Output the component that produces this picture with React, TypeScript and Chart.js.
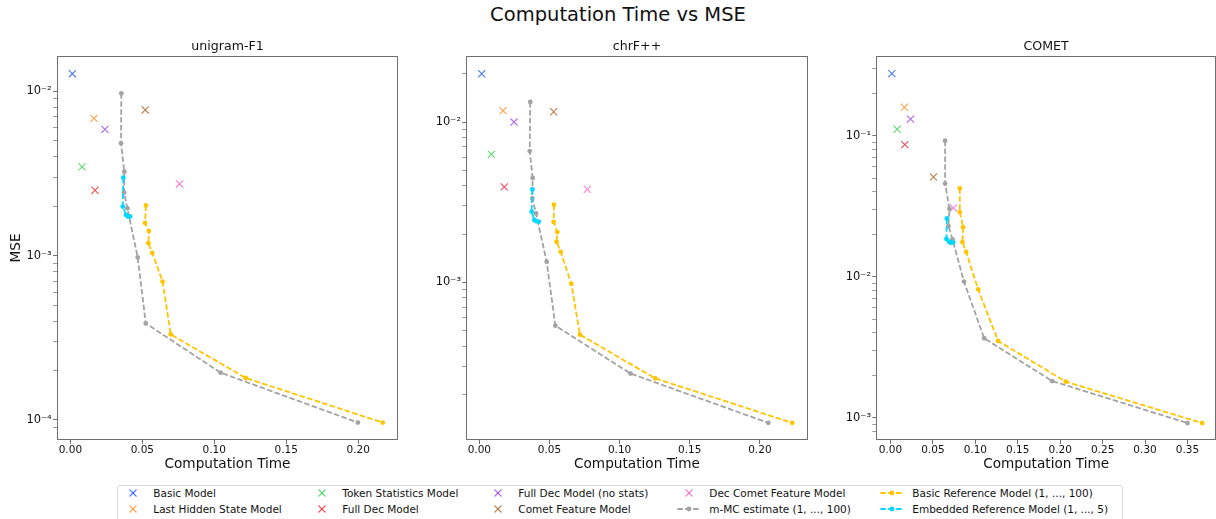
import React, { useEffect, useRef } from "react";
import { Chart, registerables } from "chart.js";

Chart.register(...registerables);

const FONT = "'DejaVu Sans', 'Noto Sans', sans-serif";

// ---------- labels ----------
const figureTitle = "Computation Time vs MSE";
const metricTitles = ["unigram-F1", "chrF++", "COMET"];
const xAxisLabel = "Computation Time";
const yAxisLabel = "MSE";
const modelNames = [
  "Basic Model",
  "Last Hidden State Model",
  "Token Statistics Model",
  "Full Dec Model",
  "Full Dec Model (no stats)",
  "Comet Feature Model",
  "Dec Comet Feature Model",
];
const mcLabel = "m-MC estimate (1, ..., 100)";
const basicRefLabel = "Basic Reference Model (1, ..., 100)";
const embRefLabel = "Embedded Reference Model (1, ..., 5)";
const xTickStep = 0.05;

// ---------- colours ----------
const modelColors = ["#023eff", "#ff7c00", "#1ac938", "#e8000b", "#8b2be2", "#9f4800", "#f14cc1"];
const mcColor = "#a3a3a3";
const basicRefColor = "#ffc400";
const embRefColor = "#00d7ff";

// ---------- unigram-F1 ----------
const uniModelTime = [0.0014, 0.0164, 0.0081, 0.0171, 0.024, 0.052, 0.0759];
const uniModelMse = [0.0128, 0.00685, 0.00347, 0.0025, 0.00587, 0.0077, 0.00273];
const uniMcTime = [0.0354, 0.0352, 0.0375, 0.0373, 0.0396, 0.0468, 0.0524, 0.1044, 0.1998];
const uniMcMse = [0.00972, 0.00483, 0.00324, 0.00242, 0.00194, 0.000977, 0.000387, 0.000194, 0.0000964];
const uniBasicRefTime = [0.0525, 0.0519, 0.0546, 0.0542, 0.0569, 0.0641, 0.0697, 0.1218, 0.2171];
const uniBasicRefMse = [0.00202, 0.00158, 0.00141, 0.00119, 0.00104, 0.000695, 0.000332, 0.00018, 0.0000964];
const uniEmbRefTime = [0.0368, 0.0364, 0.0387, 0.0399, 0.0415];
const uniEmbRefMse = [0.00298, 0.00199, 0.00177, 0.00173, 0.00173];

// ---------- chrF++ ----------
const chrfModelTime = [0.0017, 0.0169, 0.0086, 0.0178, 0.0247, 0.053, 0.077];
const chrfModelMse = [0.02, 0.01177, 0.00629, 0.00394, 0.01, 0.01159, 0.0038];
const chrfMcTime = [0.0363, 0.0359, 0.038, 0.0378, 0.0404, 0.048, 0.0542, 0.1078, 0.206];
const chrfMcMse = [0.01333, 0.00659, 0.00448, 0.00334, 0.00269, 0.001345, 0.000537, 0.00027, 0.000133];
const chrfBasicRefTime = [0.0532, 0.053, 0.0556, 0.0551, 0.058, 0.0656, 0.0717, 0.1254, 0.223];
const chrfBasicRefMse = [0.00305, 0.00238, 0.00206, 0.00179, 0.00155, 0.00098, 0.000472, 0.000252, 0.000133];
const chrfEmbRefTime = [0.0378, 0.0373, 0.0392, 0.0404, 0.0423];
const chrfEmbRefMse = [0.0038, 0.00276, 0.00245, 0.00241, 0.00239];

// ---------- COMET ----------
const cometModelTime = [0.0016, 0.0165, 0.0079, 0.0169, 0.0236, 0.0507, 0.0742];
const cometModelMse = [0.275, 0.159, 0.111, 0.0863, 0.131, 0.0509, 0.0307];
const cometMcTime = [0.0644, 0.0644, 0.0695, 0.0683, 0.0731, 0.0866, 0.1104, 0.1905, 0.35];
const cometMcMse = [0.0922, 0.0457, 0.0303, 0.02286, 0.0184, 0.00923, 0.00366, 0.00182, 0.000916];
const cometBasicRefTime = [0.0817, 0.0817, 0.0856, 0.0848, 0.0892, 0.1033, 0.1269, 0.2066, 0.3673];
const cometBasicRefMse = [0.0423, 0.0287, 0.0224, 0.0176, 0.01496, 0.00813, 0.0035, 0.0018, 0.000916];
const cometEmbRefTime = [0.0664, 0.066, 0.0691, 0.0711, 0.0739];
const cometEmbRefMse = [0.0259, 0.0185, 0.0177, 0.0174, 0.0175];

// ---------- axis ranges ----------
const xMins = [-0.0093, -0.0093, -0.0167];
const xMaxs = [0.2277, 0.2341, 0.3836];
const yMins = [0.0000755, 0.000104, 0.000695];
const yMaxs = [0.0164, 0.0258, 0.367];

const subplots = [
  { modelTime: uniModelTime, modelMse: uniModelMse, mcTime: uniMcTime, mcMse: uniMcMse, brTime: uniBasicRefTime, brMse: uniBasicRefMse, erTime: uniEmbRefTime, erMse: uniEmbRefMse },
  { modelTime: chrfModelTime, modelMse: chrfModelMse, mcTime: chrfMcTime, mcMse: chrfMcMse, brTime: chrfBasicRefTime, brMse: chrfBasicRefMse, erTime: chrfEmbRefTime, erMse: chrfEmbRefMse },
  { modelTime: cometModelTime, modelMse: cometModelMse, mcTime: cometMcTime, mcMse: cometMcMse, brTime: cometBasicRefTime, brMse: cometBasicRefMse, erTime: cometEmbRefTime, erMse: cometEmbRefMse },
];

// ---------- layout (pixels) ----------
const canvasLefts = [0, 400, 810];
const canvasWidths = [400, 410, 406];
const yAxisWidths = [57, 66.3, 66.3];
const rightPads = [2, 2.3, 0];
const canvasTop = 38;
const canvasHeight = 442;

const SUP: Record<string, string> = { "-": "\u207B", "0": "\u2070", "1": "\u00B9", "2": "\u00B2", "3": "\u00B3", "4": "\u2074", "5": "\u2075", "6": "\u2076", "7": "\u2077", "8": "\u2078", "9": "\u2079" };
const sup = (s: string) => s.split("").map((c) => SUP[c] || c).join("");

function withAlpha(hex: string, a: number) {
  const r = parseInt(hex.slice(1, 3), 16);
  const g = parseInt(hex.slice(3, 5), 16);
  const b = parseInt(hex.slice(5, 7), 16);
  return `rgba(${r},${g},${b},${a})`;
}

const zip = (xs: number[], ys: number[]) => xs.map((x, i) => ({ x, y: ys[i] }));

function isNiceLog(v: number) {
  const e = Math.floor(Math.log10(v) + 1e-9);
  const m = v / Math.pow(10, e);
  return Math.abs(m - Math.round(m)) < 1e-6;
}
function isPow10(v: number) {
  const l = Math.log10(v);
  return Math.abs(l - Math.round(l)) < 1e-6;
}

const framePlugin = {
  id: "frame",
  afterDraw(chart: any) {
    const { ctx, chartArea } = chart;
    const l = Math.round(chartArea.left) + 0.5;
    const t = Math.round(chartArea.top) + 0.5;
    const r = Math.round(chartArea.right) - 0.5;
    const b = Math.round(chartArea.bottom) - 0.5;
    ctx.save();
    ctx.strokeStyle = "#6f6f6f";
    ctx.lineWidth = 1;
    ctx.strokeRect(l, t, r - l, b - t);
    ctx.restore();
  },
};

function lineDataset(label: string, data: any[], color: string, order: number) {
  return {
    label,
    data,
    showLine: true,
    borderColor: color,
    backgroundColor: color,
    borderWidth: 1.8,
    borderDash: [5.5, 2.4],
    pointRadius: 2.4,
    pointBorderWidth: 0,
    pointBackgroundColor: color,
    tension: 0,
    order,
  };
}

function makeConfig(i: number): any {
  const d = subplots[i];
  const crossSets = modelNames.map((name, k) => ({
    label: name,
    data: [{ x: d.modelTime[k], y: d.modelMse[k] }],
    showLine: false,
    pointStyle: "crossRot",
    pointRadius: 5,
    pointBorderWidth: 1.1,
    borderColor: withAlpha(modelColors[k], 0.7),
    backgroundColor: "transparent",
    order: 20 - k,
  }));
  const datasets = [
    ...crossSets,
    lineDataset(mcLabel, zip(d.mcTime, d.mcMse), mcColor, 3),
    lineDataset(basicRefLabel, zip(d.brTime, d.brMse), basicRefColor, 2),
    lineDataset(embRefLabel, zip(d.erTime, d.erMse), embRefColor, 1),
  ];
  const tickFont = { family: FONT, size: 10.5 };
  return {
    type: "scatter",
    data: { datasets },
    options: {
      responsive: false,
      animation: false,
      devicePixelRatio: 1,
      layout: { autoPadding: false, padding: { left: 0, right: rightPads[i], top: 0, bottom: 0 } },
      plugins: {
        legend: { display: false },
        tooltip: { enabled: false },
        title: {
          display: true,
          text: metricTitles[i],
          fullSize: false,
          color: "#111",
          font: { family: FONT, size: 12.6, weight: "normal", lineHeight: 1.2 },
          padding: { top: 1.45, bottom: 1.45 },
        },
      },
      scales: {
        x: {
          type: "linear",
          min: xMins[i],
          max: xMaxs[i],
          border: { display: false },
          grid: { drawOnChartArea: false, drawTicks: true, tickLength: 4, tickColor: "#6f6f6f", tickWidth: 1 },
          ticks: {
            stepSize: xTickStep,
            includeBounds: false,
            autoSkip: false,
            maxRotation: 0,
            padding: 0,
            color: "#111",
            font: tickFont,
            callback: (v: any) => Number(v).toFixed(2),
          },
          title: {
            display: true,
            text: xAxisLabel,
            color: "#111",
            font: { family: FONT, size: 13.65, lineHeight: 1.2 },
            padding: { top: 0, bottom: 7.8 },
          },
          afterFit: (s: any) => {
            s.height = 40;
          },
        },
        y: {
          type: "logarithmic",
          min: yMins[i],
          max: yMaxs[i],
          border: { display: false },
          grid: {
            drawOnChartArea: false,
            drawTicks: true,
            tickLength: 4,
            tickColor: (c: any) => (c.tick && isNiceLog(c.tick.value) ? "#6f6f6f" : "rgba(0,0,0,0)"),
            tickWidth: (c: any) => (c.tick && isPow10(c.tick.value) ? 1 : 0.7),
          },
          ticks: {
            autoSkip: false,
            padding: 1.3,
            color: "#111",
            font: { family: FONT, size: 11.5 },
            callback: (v: any) => {
              const n = Number(v);
              if (!isPow10(n)) return "";
              return "10" + sup(String(Math.round(Math.log10(n))));
            },
          },
          title: {
            display: i === 0,
            text: yAxisLabel,
            color: "#111",
            font: { family: FONT, size: 13.65, lineHeight: 1.2 },
            padding: { top: 8, bottom: 0 },
          },
          afterFit: (s: any) => {
            s.width = yAxisWidths[i];
          },
        },
      },
    },
    plugins: [framePlugin],
  };
}

function SubChart({ index }: { index: number }) {
  const ref = useRef<HTMLCanvasElement | null>(null);
  useEffect(() => {
    if (!ref.current) return;
    const chart = new Chart(ref.current, makeConfig(index));
    return () => chart.destroy();
  }, [index]);
  return (
    <canvas
      ref={ref}
      width={canvasWidths[index]}
      height={canvasHeight}
      style={{
        position: "absolute",
        left: canvasLefts[index],
        top: canvasTop,
        width: canvasWidths[index],
        height: canvasHeight,
        display: "block",
      }}
    />
  );
}

// legend layout
const legendMarkerX = [132.7, 322, 497.7, 688.7, 891.7];
const legendTextX = [153.3, 342.3, 518.3, 709.3, 912.3];
const legendRowY = [493, 508.7];

function LegendMarker({ kind, color }: { kind: string; color: string }) {
  if (kind === "cross") {
    return (
      <svg width="12" height="12" viewBox="-6 -6 12 12" style={{ display: "block" }}>
        <g stroke={withAlpha(color, 0.7)} strokeWidth="1.1">
          <line x1="-3.5" y1="-3.5" x2="3.5" y2="3.5" />
          <line x1="-3.5" y1="3.5" x2="3.5" y2="-3.5" />
        </g>
      </svg>
    );
  }
  return (
    <svg width="26" height="10" viewBox="-13 -5 26 10" style={{ display: "block" }}>
      <line x1="-11.7" y1="0" x2="11.7" y2="0" stroke={color} strokeWidth="1.8" strokeDasharray="5.5 2.4" />
      <circle cx="0" cy="0" r="2.4" fill={color} />
    </svg>
  );
}

function Legend() {
  const entries = [
    ...modelNames.map((n, k) => ({ label: n, color: modelColors[k], kind: "cross" })),
    { label: mcLabel, color: mcColor, kind: "line" },
    { label: basicRefLabel, color: basicRefColor, kind: "line" },
    { label: embRefLabel, color: embRefColor, kind: "line" },
  ];
  return (
    <>
      <div
        style={{
          position: "absolute",
          left: 117.3,
          top: 484.7,
          width: 1122.7 - 117.3,
          height: 38,
          boxSizing: "border-box",
          border: "1px solid #d6d6d6",
          borderRadius: 3,
          background: "rgba(255,255,255,0.8)",
        }}
      />
      {entries.map((e, i) => {
        const col = Math.floor(i / 2);
        const row = i % 2;
        const cy = legendRowY[row];
        const isCross = e.kind === "cross";
        return (
          <React.Fragment key={e.label}>
            <div
              style={{
                position: "absolute",
                left: legendMarkerX[col] - (isCross ? 6 : 13),
                top: cy - (isCross ? 6 : 5),
              }}
            >
              <LegendMarker kind={e.kind} color={e.color} />
            </div>
            <div
              style={{
                position: "absolute",
                left: legendTextX[col],
                top: cy - 7,
                height: 14,
                lineHeight: "14px",
                fontSize: 10.5,
                fontFamily: FONT,
                color: "#111",
                whiteSpace: "nowrap",
              }}
            >
              {e.label}
            </div>
          </React.Fragment>
        );
      })}
    </>
  );
}

export default function App() {
  return (
    <div
      style={{
        position: "absolute",
        left: 0,
        top: 0,
        width: 1216,
        height: 519,
        background: "#fff",
        overflow: "hidden",
        fontFamily: FONT,
      }}
    >
      <div
        style={{
          position: "absolute",
          left: 618,
          top: 5,
          transform: "translateX(-50%)",
          fontSize: 19.5,
          lineHeight: "20px",
          color: "#111",
          whiteSpace: "nowrap",
        }}
      >
        {figureTitle}
      </div>
      {[0, 1, 2].map((i) => (
        <SubChart key={i} index={i} />
      ))}
      <Legend />
    </div>
  );
}
